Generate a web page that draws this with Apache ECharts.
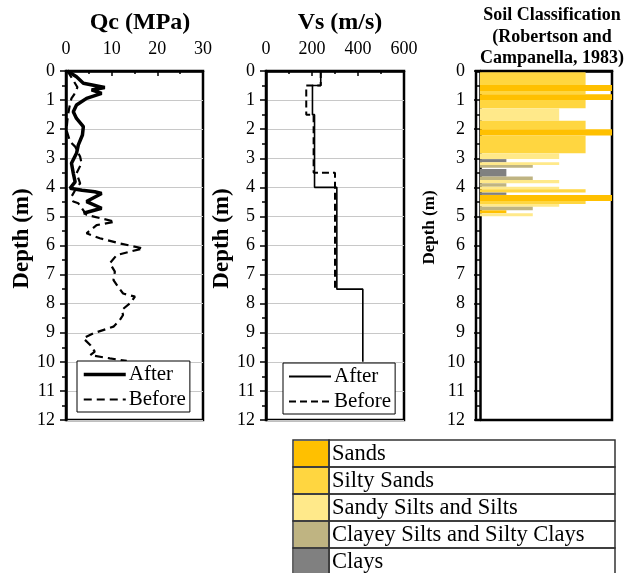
<!DOCTYPE html>
<html>
<head>
<meta charset="utf-8">
<script src="https://cdn.jsdelivr.net/npm/echarts@6/dist/echarts.min.js"></script>
<style>
  html, body { margin: 0; padding: 0; background: #fff; }
  #chart { width: 632px; height: 573px; }
</style>
</head>
<body>
<div id="chart"></div>
<script>
// depth (m) / value pairs
const qcAfterDepth = [0, 0.2, 0.42, 0.57, 0.65, 0.77, 0.94, 1.17, 1.4, 1.63, 1.91, 2.2, 2.54, 2.83, 3.17, 3.52, 3.81, 4.03, 4.1, 4.15, 4.21, 4.49, 4.72, 4.89]
const qcAfterValue = [0.3, 2.3, 3.8, 8.5, 5.6, 7.8, 4.5, 2.3, 1.6, 2.3, 3.8, 3.6, 2.7, 2.3, 1.2, 1.6, 2.0, 0.9, 3.5, 6.3, 7.8, 4.5, 7.8, 3.8]

const qcBeforeDepth = [0, 0.3, 0.56, 0.8, 0.94, 1.2, 1.46, 1.7, 2.03, 2.43, 2.6, 2.95, 3.17, 3.52, 3.86, 4.1, 4.32, 4.49, 4.55, 4.95, 5.18, 5.3, 5.58, 5.75, 5.93, 6.1, 6.21, 6.33, 6.61, 6.9, 7.19, 7.42, 7.65, 7.76, 7.99, 8.22, 8.39, 8.56, 8.79, 9.02, 9.19, 9.42, 9.65, 9.77, 9.88, 9.97]
const qcBeforeValue = [0.3, 1.5, 2.5, 1.8, 1.2, 0.8, 0.5, 0.3, 0.1, 0.9, 2.0, 3.1, 3.4, 2.3, 3.1, 2.0, 1.2, 1.6, 2.7, 4.5, 10.7, 6.7, 4.5, 7.4, 11.8, 16.9, 14, 11.1, 9.6, 10.7, 10.4, 11.4, 12.5, 15.1, 14, 12.2, 12.5, 11.8, 10.4, 6, 3.8, 5.3, 6.3, 5.3, 9.6, 13.3]

const vsAfterDepth = [0, 0.5, 0.5, 1.5, 1.5, 4, 4, 7.5, 7.5, 10]
const vsAfterValue = [238, 238, 202, 202, 211, 211, 308, 308, 421, 421]
const vsBeforeDepth = [0, 0.5, 0.5, 1.5, 1.5, 3.5, 3.5, 7.5]
const vsBeforeValue = [238, 238, 175, 175, 207, 207, 300, 300]

const soilClasses = ['Sands', 'Silty Sands', 'Sandy Silts and Silts', 'Clayey Silts and Silty Clays', 'Clays']
const soilColors = ['#ffc000', '#ffd640', '#ffe98a', '#bfb482', '#808080']

// layers: top, bottom, bar length, class index
const soilTop =    [0.04, 0.48, 0.69, 0.80, 1.00, 1.28, 1.71, 2.00, 2.22, 2.83, 3.03, 3.14, 3.23, 3.37, 3.63, 3.75, 3.86, 3.98, 4.07, 4.18, 4.26, 4.47, 4.57, 4.67, 4.79, 4.89]
const soilBottom = [0.48, 0.69, 0.80, 1.00, 1.28, 1.71, 2.00, 2.22, 2.83, 3.03, 3.14, 3.23, 3.33, 3.63, 3.75, 3.86, 3.98, 4.07, 4.18, 4.26, 4.47, 4.57, 4.67, 4.79, 4.89, 4.99]
const soilLength = [4, 5, 4, 5, 4, 3, 4, 5, 4, 3, 1, 3, 2, 1, 2, 3, 1, 3, 4, 1, 5, 4, 3, 2, 1, 2]
const soilClass =  [1, 0, 1, 0, 1, 2, 1, 0, 1, 2, 4, 2, 3, 4, 3, 2, 3, 2, 1, 4, 0, 1, 2, 3, 0, 2]

const depthTicks = [0, 1, 2, 3, 4, 5, 6, 7, 8, 9, 10, 11, 12]

const serif = 'Liberation Serif, Times New Roman, serif'
const pairs = (xs, ds) => xs.map((v, i) => [v, ds[i]])

const chart = echarts.init(document.getElementById('chart'))

const gridBase = { top: 71, height: 349, show: true, borderColor: '#000', borderWidth: 2.5, backgroundColor: '#fff' }

const xBase = (gi, min, max, interval, showLabel) => ({
  gridIndex: gi,
  type: 'value',
  position: 'top',
  min: min,
  max: max,
  interval: interval,
  axisLine: { show: true, lineStyle: { color: '#000', width: 2.5 } },
  axisTick: { show: showLabel, inside: true, length: 5, lineStyle: { color: '#000', width: 1.5 } },
  minorTick: { show: showLabel, splitNumber: 2, length: 3, lineStyle: { color: '#000', width: 1.5 } },
  axisLabel: { show: showLabel, fontSize: 18, color: '#000', fontFamily: serif, margin: 13 },
  splitLine: { show: false }
})

const yBase = (gi, nameSize, nameGap, shiftUp) => ({
  gridIndex: gi,
  type: 'value',
  inverse: true,
  min: 0,
  max: 12,
  interval: 1,
  name: 'Depth (m)',
  nameLocation: 'middle',
  nameGap: nameGap,
  nameTextStyle: { fontSize: nameSize, fontWeight: 'bold', color: '#000', fontFamily: serif, padding: [0, 0, 0, shiftUp] },
  axisLine: { show: true, lineStyle: { color: '#000', width: 2.5 } },
  axisTick: { show: true, length: 6, lineStyle: { color: '#000', width: 1.5 } },
  minorTick: { show: true, splitNumber: 2, length: 4, lineStyle: { color: '#000', width: 1.5 } },
  axisLabel: {
    fontSize: 18, color: '#000', fontFamily: serif, margin: 11,
    formatter: v => depthTicks.indexOf(v) >= 0 ? String(v) : ''
  },
  splitLine: { show: gi < 2, lineStyle: { color: '#c8c8c8', width: 1 } }
})

// soil legend table at the bottom
const tableLeft = 293, tableTop = 440, rowH = 27, swatchW = 36, tableW = 322
const tableGraphics = []
soilClasses.forEach((name, i) => {
  const y = tableTop + i * rowH
  tableGraphics.push({
    type: 'rect', shape: { x: tableLeft + 1, y: y + 1, width: swatchW - 2, height: rowH - 2 },
    style: { fill: soilColors[i] }
  })
  tableGraphics.push({
    type: 'rect', shape: { x: tableLeft, y: y, width: swatchW, height: rowH },
    style: { fill: 'none', stroke: '#333', lineWidth: 1.5 }
  })
  tableGraphics.push({
    type: 'rect', shape: { x: tableLeft + swatchW, y: y, width: tableW - swatchW, height: rowH },
    style: { fill: 'none', stroke: '#333', lineWidth: 1.5 }
  })
  tableGraphics.push({
    type: 'text', x: tableLeft + swatchW + 3, y: y + rowH / 2 + 1,
    style: { text: name, fill: '#000', font: '22.5px ' + serif, textVerticalAlign: 'middle' }
  })
})

const legendBase = {
  orient: 'vertical',
  backgroundColor: '#fff',
  borderColor: '#000',
  borderWidth: 1,
  padding: [3, 4, 2, 5],
  itemWidth: 42,
  itemHeight: 14,
  itemGap: 4,
  selectedMode: false,
  itemStyle: { opacity: 0 },
  textStyle: { fontSize: 21, color: '#000', fontFamily: serif, padding: [0, 0, 0, -2] }
}

const option = {
  animation: false,
  backgroundColor: '#fff',
  title: [
    { text: 'Qc (MPa)', left: 135, top: 6, textAlign: 'center',
      textStyle: { fontSize: 24, fontWeight: 'bold', color: '#000', fontFamily: serif } },
    { text: 'Vs (m/s)', left: 335, top: 6, textAlign: 'center',
      textStyle: { fontSize: 24, fontWeight: 'bold', color: '#000', fontFamily: serif } },
    { text: 'Soil Classification\n(Robertson and\nCampanella, 1983)', left: 547, top: 0, textAlign: 'center',
      textStyle: { fontSize: 18, fontWeight: 'bold', color: '#000', fontFamily: serif, lineHeight: 21.5 } }
  ],
  grid: [
    Object.assign({ left: 66, width: 137 }, gridBase),
    Object.assign({ left: 266, width: 138 }, gridBase),
    Object.assign({ left: 476, width: 136 }, gridBase)
  ],
  xAxis: [
    xBase(0, 0, 30, 10, true),
    xBase(1, 0, 600, 200, true),
    xBase(2, -0.15, 5, 1, false)
  ],
  yAxis: [
    yBase(0, 23, 24, 14),
    yBase(1, 23, 20, 14),
    yBase(2, 17, 38, 36)
  ],
  legend: [
    Object.assign({ data: [{ name: 'After', lineStyle: { width: 3.5 } }, 'Before'], left: 77, top: 361 }, legendBase),
    Object.assign({ data: ['Vs After', 'Vs Before'], left: 283, top: 363,
      formatter: name => name.replace('Vs ', '') }, legendBase)
  ],
  series: [
    {
      name: 'Before', type: 'line', xAxisIndex: 0, yAxisIndex: 0,
      data: pairs(qcBeforeValue, qcBeforeDepth), symbol: 'none',
      lineStyle: { color: '#000', width: 2.2, type: [8, 5] }, itemStyle: { color: '#000' }
    },
    {
      name: 'After', type: 'line', xAxisIndex: 0, yAxisIndex: 0,
      data: pairs(qcAfterValue, qcAfterDepth), symbol: 'none',
      lineStyle: { color: '#000', width: 3.5 }, itemStyle: { color: '#000' }
    },
    {
      name: 'Vs Before', type: 'line', xAxisIndex: 1, yAxisIndex: 1,
      data: pairs(vsBeforeValue, vsBeforeDepth), symbol: 'none',
      lineStyle: { color: '#000', width: 2, type: [7, 4] }, itemStyle: { color: '#000' }
    },
    {
      name: 'Vs After', type: 'line', xAxisIndex: 1, yAxisIndex: 1,
      data: pairs(vsAfterValue, vsAfterDepth), symbol: 'none',
      lineStyle: { color: '#000', width: 1.6 }, itemStyle: { color: '#000' }
    },
    {
      name: 'Soil', type: 'custom', xAxisIndex: 2, yAxisIndex: 2,
      data: soilTop.map((t, i) => [t, soilBottom[i], soilLength[i], soilClass[i]]),
      encode: { x: 2, y: [0, 1] },
      renderItem: (params, api) => {
        const p0 = api.coord([0, api.value(0)])
        const p1 = api.coord([api.value(2), api.value(1)])
        return {
          type: 'rect',
          shape: { x: p0[0], y: p0[1], width: p1[0] - p0[0], height: p1[1] - p0[1] },
          style: { fill: soilColors[api.value(3)] }
        }
      }
    }
  ],
  graphic: tableGraphics
}

chart.setOption(option)
</script>
</body>
</html>
